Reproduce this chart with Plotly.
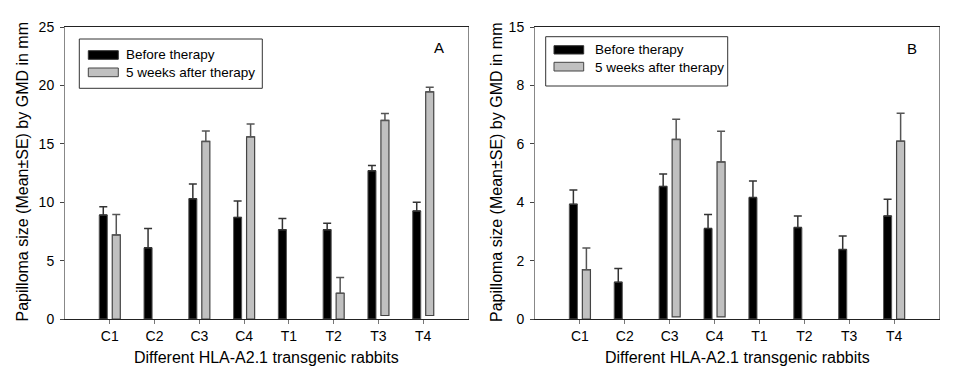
import plotly.graph_objects as go

categories = ["C1", "C2", "C3", "C4", "T1", "T2", "T3", "T4"]

# Panel A values (mm)
a_before = [8.9, 6.1, 10.3, 8.7, 7.65, 7.65, 12.7, 9.25]
a_before_se = [0.7, 1.65, 1.25, 1.4, 0.95, 0.55, 0.45, 0.75]
a_after = [7.2, None, 15.2, 15.6, None, 2.2, 17.0, 19.45]
a_after_se = [1.75, None, 0.9, 1.1, None, 1.35, 0.6, 0.4]
a_after_base = [0, 0, 0, 0, 0, 0, 0.3, 0.3]

# Panel B values (mm)
b_before = [3.93, 1.26, 4.54, 3.10, 4.16, 3.13, 2.38, 3.53]
b_before_se = [0.49, 0.47, 0.43, 0.48, 0.57, 0.40, 0.46, 0.57]
b_after = [1.69, None, 6.15, 5.38, None, None, None, 6.09]
b_after_se = [0.74, None, 0.69, 1.05, None, None, None, 0.96]
b_after_base = [0, 0, 0.07, 0.07, 0, 0, 0, 0]

a_yticks = [0, 5, 10, 15, 20, 25]
a_yticktext = ["0", "5", "10", "15", "20", "25"]
b_yticks = [0, 2, 4, 6, 8, 10]
b_yticktext = ["0", "2", "4", "6", "8", "15"]

legend_labels = ["Before therapy", "5 weeks after therapy"]
panel_labels = ["A", "B"]
x_title = "Different HLA-A2.1 transgenic rabbits"
y_title = "Papilloma size (Mean\u00b1SE) by GMD in mm"

FONT = "Liberation Sans, Arial, sans-serif"
BLACK_FILL = "#000000"
GRAY_FILL = "#c0c0c0"

fig = go.Figure()


def add_panel(before, before_se, after, after_se, after_base, xa, ya):
    fig.add_trace(go.Bar(
        x=categories, y=before, xaxis=xa, yaxis=ya, showlegend=False,
        marker=dict(color=BLACK_FILL, line=dict(color="#555555", width=1)),
        error_y=dict(type="data", array=before_se, arrayminus=[0] * len(before),
                     symmetric=False, color="#333333", thickness=1.5, width=4),
    ))
    heights = [None if v is None else v - b for v, b in zip(after, after_base)]
    fig.add_trace(go.Bar(
        x=categories, y=heights, base=after_base, xaxis=xa, yaxis=ya, showlegend=False,
        marker=dict(color=GRAY_FILL, line=dict(color="#444444", width=1.2)),
        error_y=dict(type="data", array=[0 if s is None else s for s in after_se],
                     arrayminus=[0] * len(after), symmetric=False,
                     color="#555555", thickness=1.5, width=4),
    ))


add_panel(a_before, a_before_se, a_after, a_after_se, a_after_base, "x", "y")
add_panel(b_before, b_before_se, b_after, b_after_se, b_after_base, "x2", "y2")

# The page body has an 8px margin, so layout is designed in window pixels
# and shifted back by OFF.
OFF = 8
FW, FH = 953 - OFF, 388 - OFF
L, T, W, H = 65 - OFF, 27 - OFF, 874, 292


def fx(p):
    return (p - OFF - L) / W


def fy(p):
    return (T + H - (p - OFF)) / H


xcommon = dict(
    range=[-1, 8], showline=True, linecolor="#222222", linewidth=1, mirror=True,
    ticks="outside", ticklen=4, tickcolor="#777777", showgrid=False, zeroline=False,
    tickfont=dict(family=FONT, size=14, color="black"), fixedrange=True,
)
ycommon = dict(
    showline=True, linecolor="#888888", linewidth=1, mirror=True,
    ticks="outside", ticklen=4, tickcolor="#444444", showgrid=False, zeroline=False,
    tickfont=dict(family=FONT, size=14, color="black"), ticklabelstandoff=3,
)

fig.update_layout(
    width=FW, height=FH,
    margin=dict(l=L, r=FW - L - W, t=T, b=FH - T - H, autoexpand=False),
    paper_bgcolor="white", plot_bgcolor="white",
    barmode="group", bargap=0.42, bargroupgap=0.38,
    font=dict(family=FONT, color="black"),
    xaxis=dict(domain=[0, fx(468)], anchor="y", **xcommon),
    xaxis2=dict(domain=[fx(535), 1], anchor="y2", **xcommon),
    yaxis=dict(domain=[0, 1], anchor="x", range=[0, 25], tickvals=a_yticks,
               ticktext=a_yticktext, **ycommon),
    yaxis2=dict(domain=[0, 1], anchor="x2", range=[0, 10], tickvals=b_yticks,
                ticktext=b_yticktext, **ycommon),
    showlegend=False,
)

shapes = []
annotations = []

legend_geom = [
    dict(box=(79.3, 262.3, 39, 88.3), sw=(88.3, 118.3), swy=[(50.7, 59.3), (68, 76.7)],
         tx=124.3, ty=[54.5, 72.5]),
    dict(box=(545.7, 727.7, 36.7, 86), sw=(554, 583.7), swy=[(45.7, 54), (62.3, 71)],
         tx=592.7, ty=[49.5, 67.5]),
]
for g in legend_geom:
    bx0, bx1, by0, by1 = g["box"]
    shapes.append(dict(type="rect", xref="paper", yref="paper",
                       x0=fx(bx0), x1=fx(bx1), y0=fy(by1), y1=fy(by0),
                       line=dict(color="#333333", width=1), fillcolor="white", layer="above"))
    fills = [(BLACK_FILL, "#333333"), (GRAY_FILL, "#444444")]
    for (sy0, sy1), (fc, lc), ty, lab in zip(g["swy"], fills, g["ty"], legend_labels):
        shapes.append(dict(type="rect", xref="paper", yref="paper",
                           x0=fx(g["sw"][0]), x1=fx(g["sw"][1]), y0=fy(sy1), y1=fy(sy0),
                           line=dict(color=lc, width=1), fillcolor=fc, layer="above"))
        annotations.append(dict(xref="paper", yref="paper", x=fx(g["tx"]), y=fy(ty),
                                xanchor="left", yanchor="middle", showarrow=False,
                                text=lab, font=dict(family=FONT, size=13.5, color="black")))

# panel letters
for lab, px_, py_ in zip(panel_labels, [439, 911.5], [48, 48.5]):
    annotations.append(dict(xref="paper", yref="paper", x=fx(px_), y=fy(py_),
                            xanchor="center", yanchor="middle", showarrow=False,
                            text=lab, font=dict(family=FONT, size=15, color="black")))

# axis titles
for cx in [(65 + 468) / 2, (535 + 939) / 2]:
    annotations.append(dict(xref="paper", yref="paper", x=fx(cx), y=fy(357.7),
                            xanchor="center", yanchor="middle", showarrow=False,
                            text=x_title, font=dict(family=FONT, size=16, color="black")))
for cx in [21.5, 496]:
    annotations.append(dict(xref="paper", yref="paper", x=fx(cx), y=fy(172),
                            xanchor="center", yanchor="middle", showarrow=False,
                            textangle=-90, text=y_title,
                            font=dict(family=FONT, size=16, color="black")))

fig.update_layout(shapes=shapes, annotations=annotations)

fig.write_html("out.html")
